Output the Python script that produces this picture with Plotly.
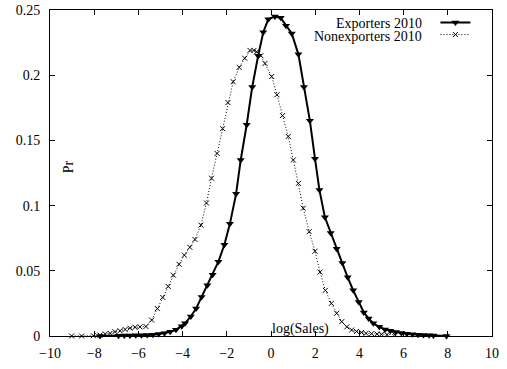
import plotly.graph_objects as go

# ---- data ----
exp_x = [-7.74, -6.9, -6.64, -6.38, -6.12, -5.86, -5.6, -5.34, -5.08, -4.82, -4.56, -4.3, -4.04,
         -3.89, -3.63, -3.39, -3.14, -2.88, -2.64, -2.38, -2.11, -1.86, -1.58, -1.37, -1.10,
         -0.85, -0.58, -0.35, -0.12, 0.18, 0.44, 0.68, 0.94, 1.24, 1.49, 1.76, 1.99, 2.19,
         2.44, 2.70, 2.97, 3.23, 3.47, 3.72, 3.97, 4.20, 4.42, 4.63, 4.90, 5.16, 5.40, 5.65,
         5.90, 6.15, 6.40, 6.65, 6.90, 7.15, 7.35, 7.94]
exp_y = [0.0, 0.0002, 0.0003, 0.0004, 0.0005, 0.0006, 0.0008, 0.001, 0.0015, 0.0022, 0.0032, 0.0048, 0.0075,
         0.0097, 0.015, 0.021, 0.030, 0.039, 0.047, 0.057, 0.070, 0.086, 0.109, 0.135, 0.162,
         0.191, 0.215, 0.233, 0.243, 0.245, 0.244, 0.238, 0.232, 0.216, 0.191, 0.165, 0.136, 0.112,
         0.091, 0.079, 0.067, 0.056, 0.045, 0.035, 0.026, 0.018, 0.0135, 0.0097, 0.007, 0.005, 0.004, 0.003,
         0.0023, 0.0018, 0.0013, 0.001, 0.0008, 0.0005, 0.0003, 0.0]

non_x = [-9.02, -8.57, -8.04, -7.74, -7.5, -7.28, -7.06, -6.83, -6.6, -6.38, -6.15, -5.93, -5.66,
         -5.4, -5.14, -4.9, -4.65, -4.42, -4.16, -3.92, -3.67, -3.44, -3.17, -2.92, -2.69, -2.44,
         -2.19, -1.95, -1.71, -1.44, -1.19, -0.95, -0.77, -0.65, -0.46, -0.27, 0.03, 0.27, 0.52,
         0.78, 1.01, 1.24, 1.46, 1.73, 1.99, 2.22, 2.46, 2.73, 2.97, 3.2, 3.43, 3.65, 3.87, 4.1,
         4.3, 4.55, 4.8, 5.0, 5.25, 5.6]
non_y = [0.0, 0.0, 0.0002, 0.0008, 0.0015, 0.002, 0.0033, 0.004, 0.005, 0.006, 0.0067, 0.007, 0.0073,
         0.0122, 0.021, 0.0296, 0.038, 0.0467, 0.055, 0.062, 0.068, 0.074, 0.085, 0.102, 0.121, 0.140,
         0.159, 0.179, 0.195, 0.206, 0.213, 0.219, 0.219, 0.218, 0.215, 0.209, 0.199, 0.185, 0.169,
         0.153, 0.135, 0.117, 0.098, 0.080, 0.065, 0.049, 0.035, 0.025, 0.0174, 0.011, 0.007, 0.0046, 0.0035, 0.0027,
         0.002, 0.0018, 0.0015, 0.0013, 0.001, 0.001]

x_ticks = [-10, -8, -6, -4, -2, 0, 2, 4, 6, 8, 10]
y_ticks = [0, 0.05, 0.1, 0.15, 0.2, 0.25]
series_names = ["Exporters 2010", "Nonexporters 2010"]

FONT = "Liberation Serif, Times New Roman, serif"

exp_line = dict(color="black", width=2)
exp_marker = dict(symbol="triangle-down", size=7, color="black")
non_line = dict(color="black", width=1, dash="1px,2px")
non_marker = dict(symbol="x-thin", size=5, color="black", line=dict(color="black", width=1))

fig = go.Figure()
fig.add_trace(go.Scatter(x=exp_x, y=exp_y, name=series_names[0], mode="lines+markers",
                         line=exp_line, marker=exp_marker, showlegend=False, cliponaxis=False))
fig.add_trace(go.Scatter(x=non_x, y=non_y, name=series_names[1], mode="lines+markers",
                         line=non_line, marker=non_marker, showlegend=False, cliponaxis=False))
# key samples (gnuplot style: text drawn to the left of the sample)
fig.add_trace(go.Scatter(x=[None], y=[None], name="", mode="lines+markers",
                         line=exp_line, marker=exp_marker, showlegend=True, legend="legend"))
fig.add_trace(go.Scatter(x=[None], y=[None], name="", mode="lines+markers",
                         line=non_line, marker=non_marker, showlegend=True, legend="legend2"))

axis_common = dict(showgrid=False, zeroline=False, showline=True, linecolor="black", linewidth=1,
                   mirror="ticks", ticks="inside", ticklen=5, tickwidth=1, tickcolor="black",
                   ticklabeloverflow="allow",
                   tickfont=dict(family=FONT, size=14, color="black"))

fig.update_layout(
    width=507, height=369,
    paper_bgcolor="white", plot_bgcolor="white",
    margin=dict(l=50, r=15, t=10, b=33, autoexpand=False),
    font=dict(family=FONT, size=14, color="black"),
    xaxis=dict(range=[-10, 10], tickvals=x_ticks, ticklabelstandoff=4, **axis_common),
    yaxis=dict(range=[0, 0.25], tickvals=y_ticks, ticklabelstandoff=6, **axis_common),
    showlegend=True,
    legend=dict(x=0.872, y=1.0095, xanchor="left", yanchor="top", bgcolor="rgba(0,0,0,0)",
                font=dict(size=14), itemwidth=30),
    legend2=dict(x=0.872, y=0.9726, xanchor="left", yanchor="top", bgcolor="rgba(0,0,0,0)",
                 font=dict(size=14), itemwidth=30),
    annotations=[
        dict(text=series_names[0], xref="paper", yref="paper", x=0.846, y=0.958,
             xanchor="right", yanchor="middle", showarrow=False, font=dict(size=14)),
        dict(text=series_names[1], xref="paper", yref="paper", x=0.846, y=0.918,
             xanchor="right", yanchor="middle", showarrow=False, font=dict(size=14)),
        dict(text="Pr", xref="paper", yref="paper", x=0.041, y=0.518, textangle=-90,
             xanchor="center", yanchor="middle", showarrow=False, font=dict(size=14)),
        dict(text="log(Sales)", xref="paper", yref="paper", x=0.566, y=0.0, yshift=-3,
             xanchor="center", yanchor="bottom", showarrow=False, font=dict(size=14)),
    ],
)

fig.write_html("out.html", config={"displayModeBar": False},
               post_script="document.body.style.margin='0';")
